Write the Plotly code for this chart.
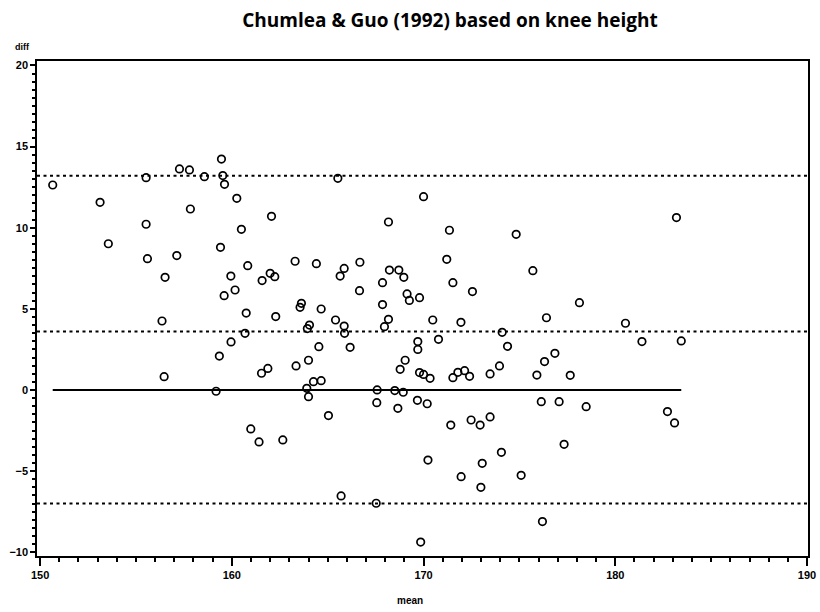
import plotly.graph_objects as go

# ---- data ----
mean_vals = [
    150.66, 153.13, 153.56, 155.53, 155.53, 155.60, 156.52, 156.36, 157.13, 157.27,
    157.79, 157.84, 158.57, 159.46, 159.53, 159.62, 159.41, 160.26, 160.50, 159.95,
    159.60, 160.17, 160.83, 160.75, 160.69, 159.96, 162.07, 161.58, 162.00, 162.24,
    162.29, 163.30, 164.41, 163.63, 163.56, 164.66, 164.05, 163.94, 165.41, 165.86,
    165.88, 164.54, 166.17, 165.53, 165.86, 165.65, 166.68, 166.66, 167.86, 167.86,
    168.22, 168.71, 168.97, 168.17, 170.00, 169.14, 169.26, 169.79, 168.17, 167.96,
    169.70, 169.70,
    156.47, 159.18, 159.35, 160.99, 161.42, 161.55, 161.88, 162.66, 163.35, 164.00,
    163.91, 164.00, 164.26, 164.66, 165.04, 165.70, 167.58, 167.56, 167.53, 168.50,
    168.94, 168.66, 168.78, 169.04, 169.79, 170.00, 170.34, 169.68, 170.19, 170.23,
    169.85,
    171.35, 171.21, 171.53, 172.55, 170.48, 171.95, 170.78, 174.83, 175.70, 176.41,
    178.13, 174.10, 174.38, 180.53, 181.39, 183.44, 183.19, 171.53, 171.79, 172.14,
    172.40, 173.47, 173.96, 175.91, 176.31, 176.85, 177.65, 171.42, 172.48, 172.95,
    173.47, 176.14, 177.07, 178.48, 182.72, 183.09, 177.33, 171.96, 173.06, 174.06,
    175.09, 172.99, 176.20,
]
diff_vals = [
    12.63, 11.56, 9.01, 13.08, 10.21, 8.09, 6.94, 4.25, 8.28, 13.62,
    13.56, 11.15, 13.14, 14.23, 13.21, 12.67, 8.79, 11.81, 9.90, 7.02,
    5.81, 6.16, 7.66, 4.74, 3.49, 2.96, 10.70, 6.74, 7.19, 6.98,
    4.52, 7.93, 7.78, 5.34, 5.09, 4.99, 4.00, 3.78, 4.31, 3.94,
    3.49, 2.67, 2.63, 13.04, 7.49, 7.02, 7.87, 6.12, 6.61, 5.26,
    7.39, 7.39, 6.94, 10.35, 11.91, 5.92, 5.52, 5.69, 4.35, 3.90,
    2.98, 2.50,
    0.82, -0.08, 2.09, -2.40, -3.20, 1.03, 1.33, -3.08, 1.48, 1.83,
    0.10, -0.41, 0.51, 0.57, -1.58, -6.53, 0.00, -0.78, -6.98, -0.04,
    -0.14, -1.13, 1.27, 1.83, 1.07, 0.96, 0.72, -0.64, -0.85, -4.32,
    -9.37,
    9.84, 8.05, 6.61, 6.06, 4.31, 4.17, 3.12, 9.59, 7.35, 4.45,
    5.38, 3.55, 2.69, 4.11, 2.98, 3.02, 10.62, 0.76, 1.09, 1.19,
    0.84, 0.99, 1.48, 0.92, 1.75, 2.26, 0.90, -2.16, -1.85, -2.16,
    -1.66, -0.72, -0.72, -1.03, -1.33, -2.03, -3.35, -5.34, -4.52, -3.84,
    -5.26, -6.00, -8.11,
]
bias = 3.6
loa_upper = 13.2
loa_lower = -7.0
x_ticks = [150, 160, 170, 180, 190]
y_ticks = [-10, -5, 0, 5, 10, 15, 20]

title_text = "Chumlea & Guo (1992) based on knee height"
x_label = "mean"
y_label = "diff"

x_range = [149.84, 190.05]
y_range = [-10.23, 20.27]

fig = go.Figure()

# zero line spanning the data range
fig.add_trace(go.Scatter(
    x=[min(mean_vals), max(mean_vals)], y=[0, 0], mode="lines",
    line=dict(color="black", width=2), hoverinfo="skip", showlegend=False))

# bias and limits of agreement (dotted, full width)
for val in [loa_upper, bias, loa_lower]:
    fig.add_trace(go.Scatter(
        x=x_range, y=[val, val], mode="lines",
        line=dict(color="black", width=2, dash="3px,3.5px"),
        hoverinfo="skip", showlegend=False))

fig.add_trace(go.Scatter(
    x=mean_vals, y=diff_vals, mode="markers",
    marker=dict(symbol="circle-open", size=7.5, color="black",
                line=dict(width=1.7, color="black")),
    showlegend=False))

tick_font = dict(family="Liberation Sans, Arial, sans-serif", size=11,
                 color="black", weight="bold")

fig.update_layout(
    width=820, height=612,
    paper_bgcolor="white", plot_bgcolor="white",
    margin=dict(l=37, r=12, t=61, b=56, autoexpand=False),
    title=dict(text=title_text, x=450 / 820, xanchor="center", xref="container",
               y=1 - 20 / 612, yanchor="middle",
               font=dict(family="Open Sans, sans-serif", size=19,
                         color="black", weight="bold")),
    xaxis=dict(range=x_range, tickvals=x_ticks, showgrid=False, zeroline=False,
               automargin=False,
               showline=True, linecolor="black", linewidth=1.5, mirror=True,
               ticks="outside", ticklen=8, tickwidth=1.5, tickcolor="black",
               tickfont=tick_font,
               minor=dict(dtick=1, tick0=150, ticks="outside", ticklen=4,
                          tickwidth=1.5, tickcolor="black", showgrid=False)),
    yaxis=dict(range=y_range, tickvals=y_ticks, showgrid=False, zeroline=False,
               automargin=False,
               showline=True, linecolor="black", linewidth=1.5, mirror=True,
               ticks="outside", ticklen=5, tickwidth=1.5, tickcolor="black",
               tickfont=tick_font,
               minor=dict(dtick=0.5, tick0=0, ticks="outside", ticklen=3,
                          tickwidth=1.5, tickcolor="black", showgrid=False)),
    annotations=[
        dict(text=y_label, xref="paper", yref="paper", x=(22 - 37) / 771,
             y=(556 - 47) / 495, showarrow=False, xanchor="center",
             yanchor="middle",
             font=dict(family="Liberation Sans, Arial, sans-serif", size=9,
                       color="black", weight="bold")),
        dict(text=x_label, xref="paper", yref="paper", x=(410 - 37) / 771,
             y=(556 - 600) / 495, showarrow=False, xanchor="center",
             yanchor="middle",
             font=dict(family="Liberation Sans, Arial, sans-serif", size=10,
                       color="black", weight="bold")),
    ],
)

fig.write_html("out.html")
